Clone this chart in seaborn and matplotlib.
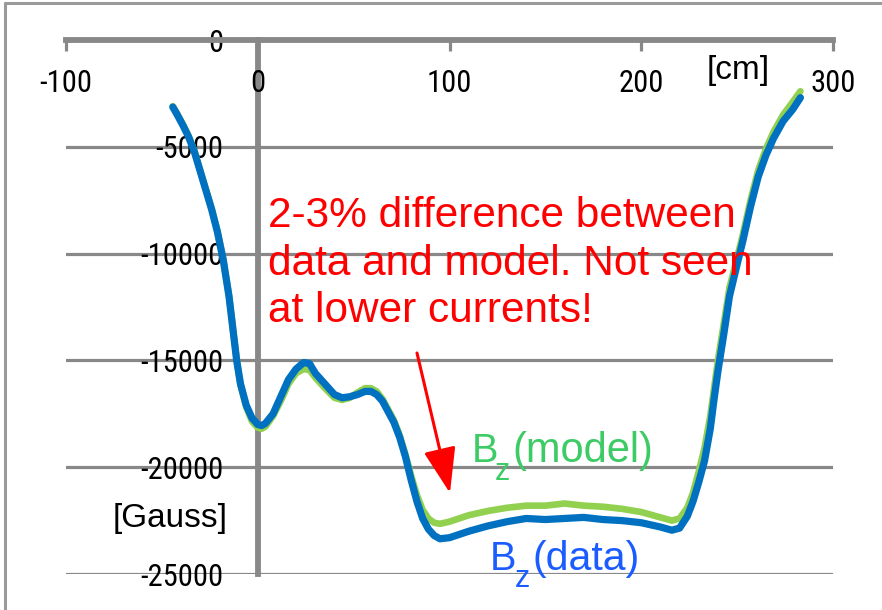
import matplotlib
matplotlib.use("Agg")
import matplotlib.pyplot as plt
from matplotlib import font_manager as fm
from matplotlib.lines import Line2D
import seaborn as sns
import pandas as pd

# ---------------- data ----------------
x_cm = [-44.3, -42, -39, -36, -33, -30, -27, -24, -21, -18, -15, -13, -11, -9, -6, -3,
        0, 2, 4, 8, 12, 16, 20, 24, 27, 30, 35, 40, 44, 48, 52, 56, 59, 62, 65, 68,
        71, 74, 77, 80, 83, 86, 89, 92, 95, 100, 105, 110, 120, 130, 140, 150, 160,
        170, 180, 190, 200, 210, 216, 220, 224, 227, 230, 233, 236, 238, 240, 243,
        246, 250, 253, 257, 261, 265, 269, 274, 279, 283]

bz_data = [-3140, -3500, -4000, -4550, -5250, -6150, -7050, -7950, -9000, -10300,
           -12000, -13500, -15000, -16100, -17100, -17700, -18000, -18050, -17950,
           -17500, -16700, -15900, -15400, -15100, -15150, -15600, -16100, -16600,
           -16750, -16700, -16600, -16450, -16450, -16600, -16900, -17400, -17900,
           -18600, -19500, -20600, -21600, -22400, -22900, -23200, -23350, -23300,
           -23150, -23000, -22750, -22550, -22400, -22450, -22400, -22350, -22450,
           -22500, -22600, -22800, -22950, -22850, -22300, -21600, -20700, -19700,
           -18200, -16800, -15500, -13800, -12000, -10500, -9400, -7800, -6400,
           -5400, -4600, -3800, -3250, -2700]

bz_model = [-3100, -3450, -3950, -4500, -5200, -6100, -7000, -7900, -8950, -10250,
            -11950, -13450, -14950, -16150, -17200, -17850, -18150, -18200, -18100,
            -17600, -16900, -16100, -15600, -15400, -15450, -15800, -16300, -16750,
            -16850, -16750, -16500, -16300, -16300, -16450, -16800, -17300, -17800,
            -18500, -19400, -20400, -21300, -22000, -22400, -22600, -22650, -22550,
            -22400, -22250, -22050, -21900, -21800, -21800, -21700, -21800, -21850,
            -21950, -22100, -22350, -22500, -22400, -21900, -21200, -20200, -19100,
            -17600, -16300, -15000, -13300, -11600, -10200, -9100, -7500, -6100,
            -5100, -4300, -3500, -2900, -2400]

x_ticks = [-100, 0, 100, 200, 300]
x_tick_labels = ["-100", "0", "100", "200", "300"]
y_ticks = [-25000, -20000, -15000, -10000, -5000, 0]
y_tick_labels = ["-25000", "-20000", "-15000", "-10000", "-5000", "0"]

note_text = "2-3% difference between\ndata and model. Not seen\nat lower currents!"
x_unit = "[cm]"
y_unit = "[Gauss]"

# ---------------- style ----------------
sns.set_theme(style="white")


def pick(cands, default):
    for c in cands:
        try:
            fm.findfont(fm.FontProperties(family=c), fallback_to_default=False)
            return c
        except Exception:
            pass
    return default


main_font = pick(["Liberation Sans", "Arial"], "DejaVu Sans")
narrow_font = pick(["Liberation Sans Narrow", "DejaVu Sans Condensed",
                    "Roboto Condensed"], main_font)
plt.rcParams["font.family"] = [main_font, "DejaVu Sans"]

GRID = "#888888"
GREEN_LINE = "#92d050"
BLUE_LINE = "#0070c0"
RED = "#ff0000"
GREEN_TXT = "#3ccb64"
BLUE_TXT = "#1a5cff"

fig = plt.figure(figsize=(8.82, 6.10), dpi=100)
fig.patch.set_facecolor("white")
W, H = 882, 610
ax = fig.add_axes([66 / W, 1 - 574 / H, (833 - 66) / W, (574 - 40) / H])
ax.set_facecolor("white")

df = pd.DataFrame({"x": x_cm, "model": bz_model, "data": bz_data})
sns.lineplot(data=df, x="x", y="model", ax=ax, color=GREEN_LINE, lw=4.8,
             solid_capstyle="round", solid_joinstyle="round", zorder=3)
sns.lineplot(data=df, x="x", y="data", ax=ax, color=BLUE_LINE, lw=5.2,
             solid_capstyle="round", solid_joinstyle="round", zorder=4)

ax.set_xlim(-100, 300)
ax.set_ylim(-25000, 0)
ax.set_xlabel("")
ax.set_ylabel("")

# spines
for s in ["bottom", "right"]:
    ax.spines[s].set_visible(False)
ax.spines["top"].set_color(GRID)
ax.spines["top"].set_linewidth(4.2)
ax.spines["left"].set_color(GRID)
ax.spines["left"].set_linewidth(4.2)
ax.spines["left"].set_position(("data", 0))
ax.spines["top"].set_zorder(2)
ax.spines["left"].set_zorder(2)

# y ticks / grid
ax.yaxis.set_ticks_position("left")
ax.set_yticks(y_ticks)
ax.set_yticklabels(y_tick_labels)
ax.tick_params(axis="y", length=0, pad=25, colors="black", labelsize=22,
               labelfontfamily=narrow_font)
ax.yaxis.grid(True, color=GRID, lw=2.3, zorder=1)
ax.xaxis.grid(False)
ax.set_axisbelow(True)

# x ticks on the top axis line, labels drawn below it
ax.set_xticks(x_ticks)
ax.xaxis.set_ticks_position("top")
ax.tick_params(axis="x", direction="in", length=8, width=2.3, color=GRID,
               labeltop=False, labelbottom=False)

xt = ax.get_xaxis_transform()
for xv, lab in zip(x_ticks, x_tick_labels):
    ax.text(xv, 1 - 44 / 534, lab, transform=xt, ha="center", va="center",
            fontfamily=narrow_font, fontsize=22, color="black")

# axis unit labels
ax.text(0.876, 0.942, x_unit, transform=ax.transAxes, ha="center", va="center",
        fontsize=24, color="black")
ax.text(0.1356, 0.103, y_unit, transform=ax.transAxes, ha="center", va="center",
        fontsize=24, color="black")

# annotation (baseline refers to the last line)
ax.text(0.2634, 0.472, note_text, transform=ax.transAxes, ha="left",
        va="baseline", fontsize=30.5, color=RED, linespacing=1.24, zorder=6)
ax.annotate("", xy=(0.5006, 0.1517), xycoords="axes fraction",
            xytext=(0.4576, 0.4139), textcoords="axes fraction",
            arrowprops=dict(arrowstyle="-|>,head_length=1.4,head_width=0.5",
                            color=RED, lw=2.2, mutation_scale=20,
                            shrinkA=0, shrinkB=0), zorder=6)

# series labels: B with subscript z
ax.text(0.5293, 0.2097, "B", transform=ax.transAxes, ha="left", va="baseline",
        fontsize=28.5, color=GREEN_TXT, zorder=6)
ax.text(0.5593, 0.176, "z", transform=ax.transAxes, ha="left", va="baseline",
        fontsize=22, color=GREEN_TXT, zorder=6)
ax.text(0.5815, 0.2097, "(model)", transform=ax.transAxes, ha="left",
        va="baseline", fontsize=30, color=GREEN_TXT, zorder=6)

ax.text(0.5528, 0.0075, "B", transform=ax.transAxes, ha="left", va="baseline",
        fontsize=28.5, color=BLUE_TXT, zorder=6)
ax.text(0.5854, -0.0243, "z", transform=ax.transAxes, ha="left", va="baseline",
        fontsize=22, color=BLUE_TXT, zorder=6)
ax.text(0.6076, 0.0075, "(data)", transform=ax.transAxes, ha="left",
        va="baseline", fontsize=29.5, color=BLUE_TXT, zorder=6)

# outer frame (top and left edges)
fig.add_artist(Line2D([5 / W, 1], [1 - 3 / H, 1 - 3 / H], color="#9a9a9a",
                      lw=2.2, transform=fig.transFigure))
fig.add_artist(Line2D([5 / W, 5 / W], [0, 1 - 3 / H], color="#9a9a9a",
                      lw=2.2, transform=fig.transFigure))

fig.savefig("out.png", dpi=100)
